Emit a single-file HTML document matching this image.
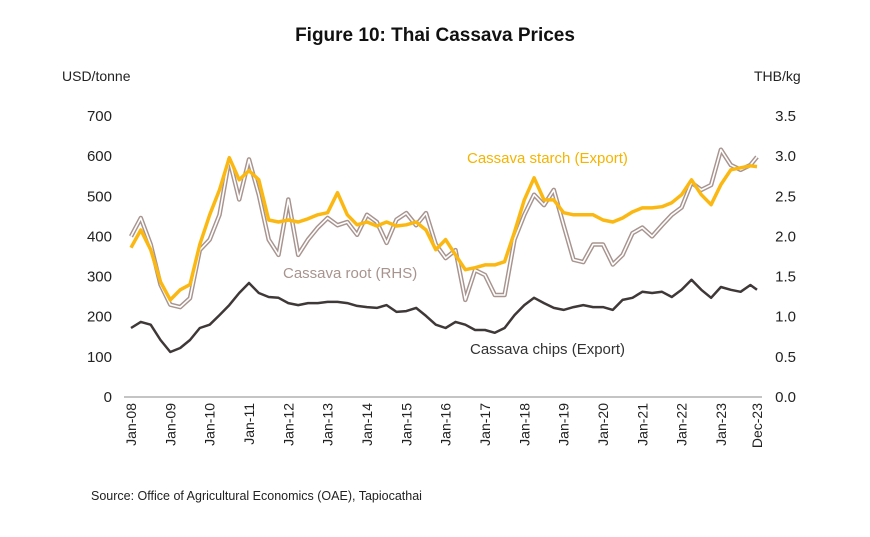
<!DOCTYPE html>
<html><head><meta charset="utf-8">
<style>
body{margin:0;background:#fff;}
svg{display:block;font-family:"Liberation Sans",sans-serif;}
</style></head>
<body>
<svg id="chart" width="870" height="537" viewBox="0 0 870 537">
<text x="435" y="41" text-anchor="middle" font-size="19" font-weight="bold" fill="#111">Figure 10: Thai Cassava Prices</text>
<text x="62" y="81" font-size="14" fill="#222">USD/tonne</text>
<text x="754" y="81" font-size="14" fill="#222">THB/kg</text>
<g id="yl"></g>
<g id="yr"></g>
<g id="xa"></g>
<g id="series"></g>
<text x="467" y="163" font-size="15" fill="#f5b400">Cassava starch (Export)</text>
<text x="283" y="278" font-size="15" fill="#a8948e">Cassava root (RHS)</text>
<text x="470" y="354" font-size="15" fill="#333">Cassava chips (Export)</text>
<text x="91" y="500" font-size="12.5" fill="#222">Source: Office of Agricultural Economics (OAE), Tapiocathai</text>
</svg>
<script>
const months=[0,3,6,9,12,15,18,21,24,27,30,33,36,39,42,45,48,51,54,57,60,63,66,69,72,75,78,81,84,87,90,93,96,99,102,105,108,111,114,117,120,123,126,129,132,135,138,141,144,147,150,153,156,159,162,165,168,171,174,177,180,183,186,189,191];
const starch=[372,416,367,287,242,267,280,380,454,516,596,541,564,541,441,436,441,436,444,454,459,509,454,429,436,426,436,426,429,436,416,367,392,354,317,322,329,329,337,411,491,546,491,491,459,454,454,454,441,436,446,461,471,471,474,484,504,541,504,479,529,566,571,576,574];
const root=[2.0,2.23,1.9,1.4,1.15,1.12,1.23,1.83,1.96,2.27,2.96,2.46,2.96,2.52,1.96,1.77,2.46,1.77,1.96,2.11,2.23,2.14,2.18,2.02,2.27,2.18,1.92,2.21,2.29,2.14,2.29,1.9,1.73,1.83,1.21,1.58,1.52,1.27,1.27,1.96,2.27,2.52,2.39,2.58,2.14,1.71,1.68,1.9,1.9,1.65,1.77,2.04,2.11,2.0,2.14,2.27,2.36,2.67,2.58,2.64,3.08,2.89,2.83,2.89,2.99];
const chips=[172,187,180,142,112,122,142,172,180,204,229,259,284,259,249,247,234,229,234,234,237,237,234,227,224,222,229,212,214,222,202,180,172,187,180,167,167,160,172,204,229,247,234,222,217,224,229,224,224,217,242,247,262,259,262,249,267,292,267,247,274,267,262,279,267];
const leftTicks=[0,100,200,300,400,500,600,700];
const rightTicks=["0.0","0.5","1.0","1.5","2.0","2.5","3.0","3.5"];
const xLabels=["Jan-08","Jan-09","Jan-10","Jan-11","Jan-12","Jan-13","Jan-14","Jan-15","Jan-16","Jan-17","Jan-18","Jan-19","Jan-20","Jan-21","Jan-22","Jan-23","Dec-23"];
const xLabelMonths=[0,12,24,36,48,60,72,84,96,108,120,132,144,156,168,180,191];

const NS="http://www.w3.org/2000/svg";
const x0=131,x1=757,yB=397,yT=116;
const xs=m=>x0+(x1-x0)*m/191;
const yL=v=>yB-(yB-yT)*v/700;
const yR=v=>yB-(yB-yT)*v/3.5;
function mk(t,a,p){const e=document.createElementNS(NS,t);for(const k in a)e.setAttribute(k,a[k]);p.appendChild(e);return e;}
const gl=document.getElementById('yl'),gr=document.getElementById('yr'),gx=document.getElementById('xa'),gs=document.getElementById('series');
leftTicks.forEach(v=>{const t=mk('text',{x:112,y:yL(v)+5,'text-anchor':'end','font-size':15,fill:'#222'},gl);t.textContent=v;

});
rightTicks.forEach(v=>{const t=mk('text',{x:796,y:yR(+v)+5,'text-anchor':'end','font-size':15,fill:'#222'},gr);t.textContent=v;

});
const ax=mk('line',{x1:124,x2:762,y1:yB,y2:yB,stroke:'#888','stroke-width':1},gx);


xLabels.forEach((l,i)=>{const x=xs(xLabelMonths[i])+5;const t=mk('text',{x:x,y:403,'text-anchor':'end','font-size':14,fill:'#222',transform:`rotate(-90 ${x} 403)`},gx);t.textContent=l;

});
function path(vals,fy){return vals.map((v,i)=>(i?'L':'M')+xs(months[i]).toFixed(1)+','+fy(v).toFixed(1)).join('');}
const r1=mk('path',{d:path(root,yR),fill:'none',stroke:'#a8948e','stroke-width':4.5,'stroke-linejoin':'round'},gs);


const r2=mk('path',{d:path(root,yR),fill:'none',stroke:'#fff','stroke-width':1.6,'stroke-linejoin':'round'},gs);


const s=mk('path',{d:path(starch,yL),fill:'none',stroke:'#fbb813','stroke-width':3.5,'stroke-linejoin':'round'},gs);


const c=mk('path',{d:path(chips,yL),fill:'none',stroke:'#3f3838','stroke-width':2.5,'stroke-linejoin':'round'},gs);


</script>
</body></html>
